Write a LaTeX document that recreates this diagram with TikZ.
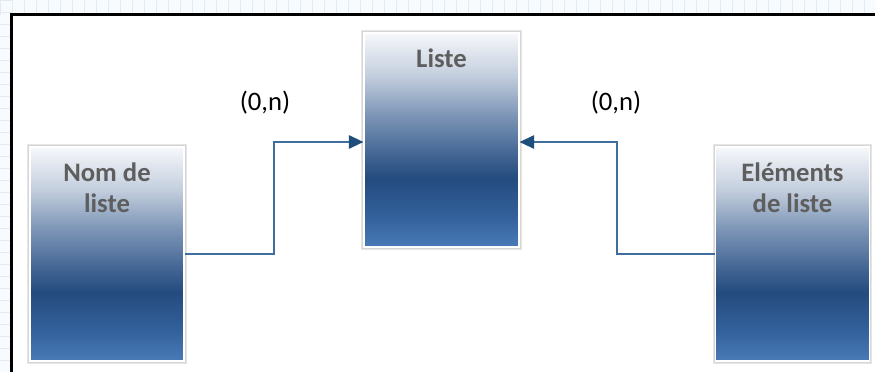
\documentclass[tikz,border=0pt]{standalone}
\usepackage{fontspec}
\setmainfont{Carlito}
\usetikzlibrary{arrows.meta}
\definecolor{btop}{HTML}{F6F8FB}
\definecolor{blight}{HTML}{C3CEDD}
\definecolor{bmid}{HTML}{7E96B7}
\definecolor{bmid2}{HTML}{3F6291}
\definecolor{bdark}{HTML}{244B7F}
\definecolor{blow}{HTML}{33619B}
\definecolor{bbot}{HTML}{4A7BB8}
\definecolor{conncol}{HTML}{3F6E9E}
\definecolor{tipcol}{HTML}{1F4E7D}
\definecolor{boxtext}{HTML}{5E5E5E}
\definecolor{gridbg}{HTML}{F8FBFD}
\definecolor{gridln}{HTML}{E2EBF3}
\pgfdeclareverticalshading{boxshade}{100bp}{color(0bp)=(bbot); color(25bp)=(bbot); color(32bp)=(blow); color(41bp)=(bdark); color(46bp)=(bmid2); color(56bp)=(bmid); color(65bp)=(blight); color(75bp)=(btop); color(100bp)=(btop)}
\tikzset{
  entity/.style={rectangle, inner sep=0pt, shading=boxshade, draw=white, line width=0.8pt,
    preaction={draw=black!10, line width=4pt},
    preaction={draw=black!16, line width=2.4pt},
    text=boxtext, font=\fontsize{20}{23}\selectfont\bfseries},
  conn/.style={draw=conncol, line width=1.5pt},
  arr/.style={conn, -{Triangle[length=11pt,width=10pt,fill=tipcol,color=tipcol]}},
  card/.style={font=\fontsize{20}{24}\selectfont, text=black, inner sep=0pt}
}
\newcommand{\boxtxt}[3]{\parbox[c][#2][t]{#1}{\vspace*{10pt}\centering\strut #3\par}}
\begin{document}
\begin{tikzpicture}[x=0.75pt,y=-0.75pt]
\useasboundingbox (0,0) rectangle (875,372);
% background grid outside the frame
\fill[white] (0,0) rectangle (875,372);
\begin{scope}
\clip (0,0) -- (875,0) -- (875,14.5) -- (11.5,14.5) -- (11.5,372) -- (0,372) -- cycle;
\fill[gridbg] (0,0) rectangle (875,372);
\foreach \gx in {0,12,...,870} \draw[gridln, line width=0.6pt] (\gx,0) -- (\gx,14.5);
\foreach \gy in {0,12,...,370} \draw[gridln, line width=0.6pt] (0,\gy) -- (11.5,\gy);
\end{scope}
\draw[black, line width=2pt] (11.5,372) -- (11.5,14.5) -- (875,14.5);
% entities
\node[entity] (liste) at (441.5,140) {\boxtxt{116.25pt}{160.5pt}{Liste}};
\node[entity] (nom) at (107,254) {\boxtxt{115.5pt}{160.5pt}{Nom de\\liste}};
\node[entity] (elem) at (792.5,254) {\boxtxt{115.5pt}{160.5pt}{Eléments\\de liste}};
% connectors
\coordinate (lk) at (274,142);
\coordinate (rk) at (617,142);
\draw[arr] (nom.east) -| (lk) -- (lk -| liste.west);
\draw[arr] (elem.west) -| (rk) -- (rk -| liste.east);
% cardinalities
\node[card] (c1) at (265,103) {(0,n)};
\node[card] (c2) at (616,103) {(0,n)};
\end{tikzpicture}
\end{document}
